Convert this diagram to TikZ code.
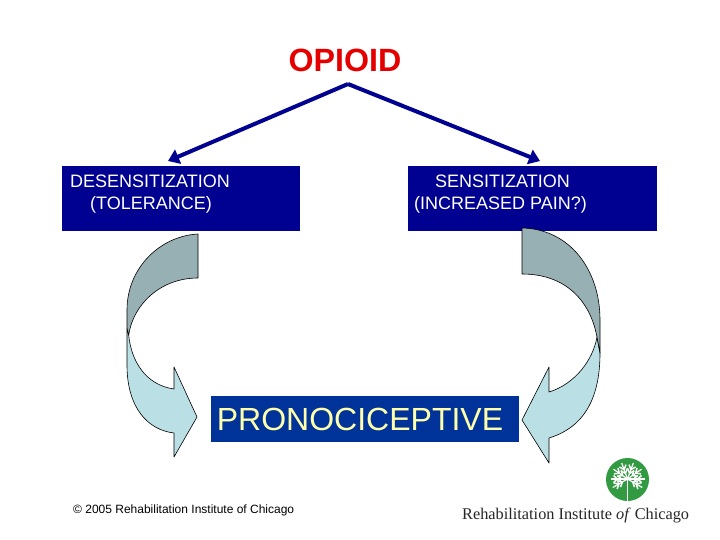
\documentclass[tikz,border=0pt]{standalone}
\usepackage{fontspec}
\setmainfont{Liberation Sans}
\newfontfamily\logofont{Liberation Serif}
\usetikzlibrary{arrows.meta}
\definecolor{boxcolor}{RGB}{0,0,145}
\definecolor{pronocolor}{RGB}{0,51,153}
\definecolor{paleyellow}{RGB}{255,255,170}
\definecolor{topcurve}{RGB}{150,176,180}
\definecolor{botcurve}{RGB}{186,223,228}
\definecolor{logogreen}{RGB}{50,155,65}
\tikzset{
    titlebox/.style={fill=boxcolor, minimum height=65pt, inner sep=0pt},
    titletext/.style={text=white, anchor=north west, inner sep=0pt, align=left, font=\fontsize{18}{22}\selectfont},
    linkarrow/.style={draw=boxcolor, line width=4pt, -{Triangle[length=11pt,width=15pt]}},
    curveedge/.style={draw=black, line width=0.6pt, line join=round}
}

\begin{document}
\begin{tikzpicture}[x=1pt, y=-1pt]
    \useasboundingbox (0,0) rectangle (720,540);

    \node [text=red!90!black, font=\bfseries\fontsize{32.2}{32}\selectfont] (opioid) at (345,60) {OPIOID};
    \coordinate (apex) at (348,84);

    \node [titlebox, anchor=north west, minimum width=238pt] (desens) at (62,166) {};
    \node [titlebox, anchor=north west, minimum width=249pt] (sens) at (408,166) {};
    \node [titletext] (desenslabel) at (70,175) {DESENSITIZATION\\\hspace*{20pt}(TOLERANCE)};
    \node [titletext] (senslabel) at (414,175) {\hspace*{21pt}SENSITIZATION\\(INCREASED PAIN?)};

    \coordinate (desenstop) at (168,161);
    \coordinate (senstop) at (540,161);
    \draw [linkarrow] (apex) -- (desenstop);
    \draw [linkarrow] (apex) -- (senstop);

    % left curve
    \path [curveedge, fill=botcurve] (128.7,335) .. controls (131,360) and (145,385) .. (174,389) -- (174,367) -- (197,417) -- (174,457) -- (174,433) .. controls (148,430) and (127,408) .. (127,365) -- (127,328) -- cycle;
    \path [curveedge, fill=topcurve] (198,234) .. controls (160,236) and (127,268) .. (127,310) -- (127,328) -- (128.7,335) .. controls (133,305) and (160,278) .. (198,278) -- cycle;

    % right curve
    \path [curveedge, fill=botcurve] (597,337) .. controls (593,360) and (575,384) .. (549,392) -- (549,367) -- (522,420) -- (549,463) -- (549,438) .. controls (585,427) and (600,397) .. (600,353) -- cycle;
    \path [curveedge, fill=topcurve] (522,228) .. controls (570,229) and (600,270) .. (600,320) -- (600,353) -- (597,337) .. controls (590,300) and (565,274) .. (522,274) -- cycle;

    \node [fill=pronocolor, minimum width=308pt, minimum height=46pt, inner sep=0pt] (prono) at (365,419) {};
    \node [text=paleyellow, font=\fontsize{32}{32}\selectfont, inner sep=0pt] (pronolabel) at (360,419) {PRONOCICEPTIVE};

    \node [font=\fontsize{12}{14}\selectfont, anchor=west, inner sep=0pt] (copyright) at (73,510) {© 2005 Rehabilitation Institute of Chicago};

    % logo
    \fill [logogreen] (627.5,479.5) circle (21.5);
    \draw [white, line width=1.5pt] (627.5,501) -- (627.5,478);
    \foreach \ang in {0,35,70,110,145,180,-30,-150} {
        \begin{scope}[shift={(627.5,479)}, rotate=\ang]
            \draw [white, line width=1.2pt] (0,0) -- (17,0);
            \draw [white, line width=1.5pt] (6,0) -- (10,-3.5) (6,0) -- (10,3.5) (10,0) -- (14,-3.5) (10,0) -- (14,3.5);
        \end{scope}
    }
    \node [font=\logofont\fontsize{16.3}{20}\selectfont, text=black!85, anchor=west, inner sep=0pt] (logotext) at (462,516) {Rehabilitation Institute \textit{of} Chicago};
\end{tikzpicture}
\end{document}
